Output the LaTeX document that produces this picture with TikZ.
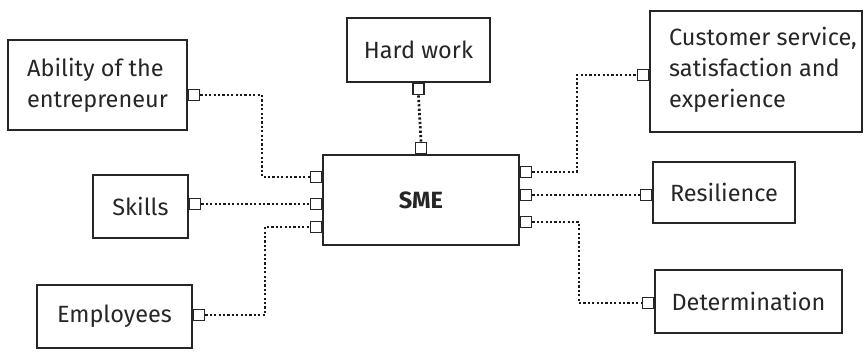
\documentclass[tikz,border=0pt]{standalone}
\usepackage{fontspec}
\setmainfont{Fira Sans}
\begin{document}
\begin{tikzpicture}[x=1pt,y=-1pt,
  box/.style={draw=black!85, line width=1.7pt, inner sep=0pt, align=left,
    font=\fontsize{23.5}{31}\selectfont, text=black!85},
  port/.style={draw=black!85, line width=1.6pt, minimum size=11pt,
    inner sep=0pt, fill=white},
  conn/.style={draw=black!90, line width=2.7pt, dash pattern=on 2.2pt off 2.2pt}]
\useasboundingbox (0,0) rectangle (864,351);

% boxes
\node[box, minimum width=179pt, minimum height=90pt] (ability) at (97.5,85)
  {Ability of the\\entrepreneur};
\node[box, minimum width=143pt, minimum height=64pt] (hard) at (418.5,50)
  {Hard work};
\node[box, minimum width=212pt, minimum height=121pt] (customer) at (756,71.5)
  {};
\node[font=\fontsize{23.5}{31}\selectfont, text=black!85, align=left,
  anchor=west, inner sep=0pt] (customertext) at (669,70)
  {Customer service,\\satisfaction and\\experience};
\node[box, minimum width=95pt, minimum height=63pt] (skills) at (140.5,206.5)
  {Skills};
\node[box, minimum width=196pt, minimum height=90pt,
  font=\fontsize{23.5}{31}\selectfont\bfseries] (sme) at (421,200)
  {SME};
\node[box, minimum width=142pt, minimum height=61pt] (resilience) at (724,192.5)
  {Resilience};
\node[box, minimum width=155pt, minimum height=63pt] (employees) at (114.5,316.5)
  {Employees};
\node[box, minimum width=187pt, minimum height=63pt] (determination) at (748.5,301.5)
  {Determination};

% ports on the outer boxes
\node[port, anchor=west]  (pa) at (ability.east |- 0,95) {};
\node[port, anchor=west]  (ps) at (skills.east |- 0,204) {};
\node[port, anchor=west]  (pe) at (employees.east |- 0,315) {};
\node[port, anchor=north] (ph) at (hard.south) {};
\node[port, anchor=east]  (pc) at (customer.west |- 0,75) {};
\node[port, anchor=east]  (pr) at (resilience.west |- 0,195) {};
\node[port, anchor=east]  (pd) at (determination.west |- 0,303) {};

% ports on the SME box
\node[port, anchor=south] (st)  at (sme.north) {};
\node[port, anchor=east]  (sl1) at (sme.west |- 0,177) {};
\node[port, anchor=east]  (sl2) at (sme.west |- 0,204) {};
\node[port, anchor=east]  (sl3) at (sme.west |- 0,227) {};
\node[port, anchor=west]  (sr1) at (sme.east |- 0,172) {};
\node[port, anchor=west]  (sr2) at (sme.east |- 0,195) {};
\node[port, anchor=west]  (sr3) at (sme.east |- 0,222) {};

% bend columns of the dotted links
\coordinate (ka) at (262,0);
\coordinate (ke) at (265,0);
\coordinate (kc) at (577,0);
\coordinate (kd) at (579,0);

% dotted links
\draw[conn] (pa.east) -- (ka |- pa.east) -- (ka |- sl1.west) -- (sl1.west);
\draw[conn] (ps.east) -- (sl2.west);
\draw[conn] (pe.east) -- (ke |- pe.east) -- (ke |- sl3.west) -- (sl3.west);
\draw[conn] (ph.south) -- (st.north);
\draw[conn] (sr1.east) -- (kc |- sr1.east) -- (kc |- pc.west) -- (pc.west);
\draw[conn] (sr2.east) -- (pr.west);
\draw[conn] (sr3.east) -- (kd |- sr3.east) -- (kd |- pd.west) -- (pd.west);
\end{tikzpicture}
\end{document}
